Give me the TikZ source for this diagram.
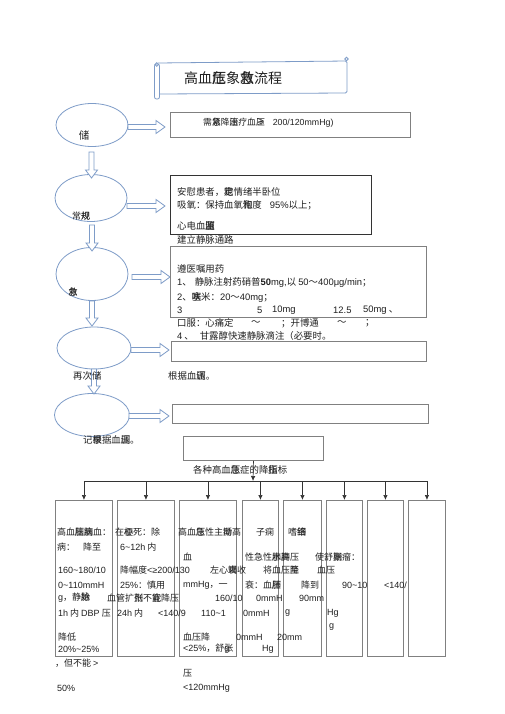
\documentclass[tikz,border=0pt]{standalone}
\usepackage{fontspec}
\setmainfont{Noto Sans CJK SC}
\newfontfamily\lat{Liberation Sans}
\usetikzlibrary{shapes.geometric,arrows.meta}
\newcommand\ov[2]{\rlap{#1}#2}
\newcommand\tl{{\lat\char"007E\relax}}
\definecolor{eblue}{HTML}{7E9CC8}
\definecolor{bgray}{HTML}{808080}
\definecolor{txt}{HTML}{202020}
\newcommand\rarr[3]{\draw[barrow] (#1,#3-2.5) -- (#2-9,#3-2.5) -- (#2-9,#3-6.5) -- (#2,#3) -- (#2-9,#3+6.5) -- (#2-9,#3+2.5) -- (#1,#3+2.5) -- cycle;}
\newcommand\darr[3]{\draw[barrow] (#1-2.5,#2) -- (#1-2.5,#3-8) -- (#1-6,#3-8) -- (#1,#3) -- (#1+6,#3-8) -- (#1+2.5,#3-8) -- (#1+2.5,#2) -- cycle;}
\tikzset{
  ell/.style={draw=eblue, line width=0.8pt, ellipse, inner sep=0pt},
  barrow/.style={draw=eblue, line width=0.8pt, fill=white},
  scrl/.style={draw=eblue, line width=0.8pt},
  box/.style={draw=bgray, line width=0.9pt, anchor=north west, inner sep=0pt},
  t/.style={anchor=west, inner sep=0pt, text=txt, font=\fontsize{9.4}{11}\selectfont},
  s/.style={anchor=west, inner sep=0pt, text=txt, font=\fontsize{9}{11}\selectfont},
  conn/.style={draw=black!80, line width=0.7pt},
  tip/.style={conn, -{Latex[length=5pt,width=4.5pt]}},
}
\begin{document}
\begin{tikzpicture}[x=1pt,y=-1pt]
\fill[white] (0,0) rectangle (505,714);
\useasboundingbox (0,0) rectangle (505,714);

% title scroll
\draw[scrl, rounded corners=1.5pt] (158,63) -- (347,61) -- (347,93) -- (159,94);
\draw[scrl, rounded corners=2pt] (154.5,64) rectangle (159.5,99);
\draw[scrl] (156.8,64.5) circle (1.8pt);
\draw[scrl] (346.5,59) circle (1.8pt);
\node[text=txt, font=\fontsize{14}{16}\selectfont, inner sep=0pt] (title) at (233,78) {高血\ov{压}{危}象\ov{急}{救}流程};

% ellipses
\node[ell, minimum width=72pt, minimum height=43pt] (e1) at (92,125) {};
\node[ell, minimum width=72pt, minimum height=47pt] (e2) at (91,198) {};
\node[ell, minimum width=72pt, minimum height=53pt] (e3) at (92,274) {};
\node[ell, minimum width=74pt, minimum height=42pt] (e4) at (94,348) {};
\node[ell, minimum width=75pt, minimum height=43pt] (e5) at (92,415) {};

% block arrows
\rarr{128}{165}{127}
\rarr{127}{165}{206}
\rarr{132}{170}{277}
\rarr{131}{169}{350}
\rarr{129}{169}{416}
\darr{91.5}{152}{178}
\darr{92}{225}{251}
\darr{92}{301}{326}
\darr{94}{369}{394}

% ellipse labels
\node[text=txt, font=\fontsize{10.5}{12}\selectfont, inner sep=0pt] (l1) at (84,135) {储};
\node[text=txt, font=\fontsize{9}{11}\selectfont, inner sep=0pt] (l2) at (81,216) {常\ov{规}{规}};
\node[text=txt, font=\fontsize{9}{11}\selectfont, inner sep=0pt] (l3) at (73,292) {\ov{急}{救}};
\node[t] (l4) at (73,376) {再次储};
\node[t] (l5) at (83,440) {记\ov{录}{根}据血\ov{压}{调}。};

% boxes
\node[box, minimum width=240pt, minimum height=25pt] (b1) at (170,112) {};
\node[box, draw=black!80, minimum width=201pt, minimum height=59pt] (b2) at (170,175) {};
\node[box, minimum width=256pt, minimum height=71pt] (b3) at (170,246) {};
\node[box, minimum width=255pt, minimum height=20pt] (b4) at (171,341) {};
\node[box, minimum width=256pt, minimum height=19pt] (b5) at (172,404) {};
\node[box, minimum width=140pt, minimum height=24pt] (b6) at (183,436) {};

% box texts
\node[t, font=\fontsize{8.8}{10}\selectfont] (x1) at (203,123) {需\ov{急}{紧}降\ov{压}{治}疗血\ov{压}{≥}\hspace{8pt}{\lat 200/120mmHg)}};

\node[t] (x2) at (177,192) {安慰患者，\ov{稳}{定}情绪半卧位};
\node[t] (x3) at (177,205) {吸氧：保持血氧\ov{饱}{和}度\hspace{8pt}{\lat 95\%}以上；};
\node[t] (x4) at (177,226) {心电血\ov{压}{\ov{监}{测}}};
\node[t] (x5) at (177,240) {建立静脉通路};

\node[t] (x6) at (177,269) {遵医嘱用药};
\node[t] (x7) at (177,283) {{\lat 1}、\hspace{3pt}静脉注射药硝普{\lat\bfseries 50}{\lat mg,}以 {\lat 50}～{\lat 400μg/min}；};
\node[t] (x8) at (177,297) {{\lat 2}、\ov{呋}{塞}米：{\lat 20}～{\lat 40mg}；};
\node[t] (x9) at (177,310) {\lat 3};
\node[t] (x10) at (257,310) {\lat 5};
\node[t] (x11) at (272,310) {\lat 10mg};
\node[t] (x12) at (333,310) {\lat 12.5};
\node[t] (x13) at (363,310) {{\lat 50mg} 、};
\node[t] (x14) at (177,323) {口服：心痛定};
\node[t] (x15) at (251,323) {～};
\node[t] (x16) at (281,323) {；开博通};
\node[t] (x17) at (337,323) {～};
\node[t] (x18) at (365,323) {；};
\node[t] (x19) at (177,336) {{\lat 4}\hspace{2pt}、\hspace{6pt}甘露醇快速静脉滴注（必要时。};

\node[t] (x20) at (168,376) {根据血\ov{压}{调}。};
\node[t] (x21) at (193,470) {各种高血\ov{压}{急}症的降\ov{压}{指}标};

% bottom boxes
\node[box, minimum width=57pt, minimum height=156pt] (c1) at (55,500) {};
\node[box, minimum width=57pt, minimum height=156pt] (c2) at (117,500) {};
\node[box, minimum width=57pt, minimum height=156pt] (c3) at (179,500) {};
\node[box, minimum width=36pt, minimum height=156pt] (c4) at (242,500) {};
\node[box, minimum width=38pt, minimum height=156pt] (c5) at (283,500) {};
\node[box, minimum width=36pt, minimum height=156pt] (c6) at (326,500) {};
\node[box, minimum width=36pt, minimum height=156pt] (c7) at (367,500) {};
\node[box, minimum width=37pt, minimum height=156pt] (c8) at (408,500) {};

% tree connectors
\coordinate (bus) at (253,481);
\draw[tip] (b6.south) -- (bus);
\draw[conn] (c1.north |- bus) -- (c8.north |- bus);
\foreach \c in {c1,c2,c3,c4,c5,c6,c7,c8}{\draw[tip] (\c.north |- bus) -- (\c.north);}

% bottom texts
\node[s] (y1) at (57,532) {高血\ov{压}{脑}\ov{脑}{病}血：};
\node[s] (y2) at (115,532) {在\ov{梗}{心}死：除};
\node[s] (y3) at (178,532) {高血\ov{压}{急}性主\ov{动}{撕}高};
\node[s] (y4) at (256,532) {子痫};
\node[s] (y5) at (288,532) {嗜\ov{铬}{细}};

\node[s] (y6) at (57,547) {病：};
\node[s] (y7) at (83,547) {降至};
\node[s] (y8) at (120,547) {{\lat 6\tl12h} 内};

\node[s] (y9) at (183,557) {血};
\node[s] (y10) at (245,557) {性急性\ov{肺}{水}\ov{高}{肿}压};
\node[s] (y11) at (315,557) {使舒\ov{张}{期}瘤：};

\node[s] (y12) at (58,570) {\lat 160\tl180/10};
\node[s] (y13) at (120,570) {降幅度{\lat <≥200/130}};
\node[s] (y14) at (210,570) {左心\ov{衰}{竭}收};
\node[s] (y15) at (263,570) {将血压\ov{降}{至}};
\node[s] (y16) at (317,570) {血压};

\node[s] (y17) at (58,585) {\lat 0\tl110mmH};
\node[s] (y18) at (120,585) {{\lat 25\%}：慎用};
\node[s] (y19) at (183,585) {{\lat mmHg}，一};
\node[s] (y20) at (245,585) {衰：血\ov{压}{肺}};
\node[s] (y21) at (301,585) {降到};
\node[s] (y22) at (342,585) {\lat 90\tl10};
\node[s] (y23) at (384,585) {\lat <140/};

\node[s] (y24) at (58,598) {{\lat g}，静\ov{脉}{始}};
\node[s] (y25) at (107,598) {血管扩\ov{张}{剂}不\ov{宜}{能}降压};
\node[s] (y26) at (215,598) {\lat 160/10};
\node[s] (y27) at (256,598) {\lat 0mmH};
\node[s] (y28) at (299,598) {\lat 90mm};

\node[s] (y29) at (58,613) {{\lat 1h} 内 {\lat DBP} 压};
\node[s] (y30) at (117,613) {{\lat 24h} 内};
\node[s] (y31) at (158,613) {\lat <140/9};
\node[s] (y32) at (201,613) {\lat 110\tl1};
\node[s] (y33) at (243,613) {\lat 0mmH};
\node[s] (y34) at (285,613) {\lat g};
\node[s] (y35) at (327,613) {\lat Hg};
\node[s] (y36) at (329,627) {\lat g};

\node[s] (y37) at (58,637) {降低};
\node[s] (y38) at (183,637) {血压降};
\node[s] (y39) at (236,637) {\lat 0mmH};
\node[s] (y40) at (277,637) {\lat 20mm};

\node[s] (y41) at (58,649) {\lat 20\%\tl25\%};
\node[s] (y42) at (183,649) {{\lat <25\%}，舒\ov{\lat g}{张}};
\node[s] (y44) at (262,649) {\lat Hg};

\node[s] (y45) at (55,663) {，但不能 {\lat >}};
\node[s] (y46) at (183,673) {压};
\node[s] (y47) at (57,688) {\lat 50\%};
\node[s] (y48) at (183,688) {\lat <120mmHg};
\end{tikzpicture}
\end{document}
